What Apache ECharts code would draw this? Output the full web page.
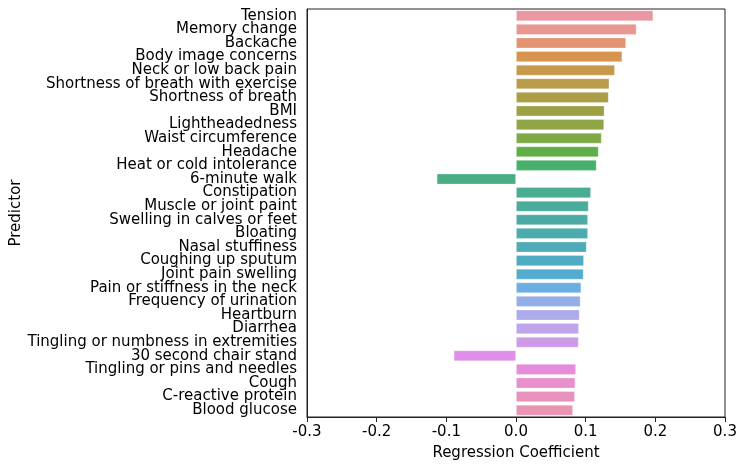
<!DOCTYPE html>
<html>
<head>
<meta charset="utf-8">
<script src="https://cdn.jsdelivr.net/npm/echarts@6/dist/echarts.min.js"></script>
<style>
html,body{margin:0;padding:0;background:#fff;}
#chart{width:746px;height:469px;}
</style>
</head>
<body>
<div id="chart"></div>
<script>
const categories = [
  "Tension","Memory change","Backache","Body image concerns","Neck or low back pain",
  "Shortness of breath with exercise","Shortness of breath","BMI","Lightheadedness",
  "Waist circumference","Headache","Heat or cold intolerance","6-minute walk",
  "Constipation","Muscle or joint paint","Swelling in calves or feet","Bloating",
  "Nasal stuffiness","Coughing up sputum","Joint pain swelling","Pain or stiffness in the neck",
  "Frequency of urination","Heartburn","Diarrhea","Tingling or numbness in extremities",
  "30 second chair stand","Tingling or pins and needles","Cough","C-reactive protein","Blood glucose"
];
const coefficients = [
  0.197, 0.173, 0.158, 0.1525, 0.142,
  0.134, 0.133, 0.127, 0.1265,
  0.123, 0.1186, 0.1157, -0.1138,
  0.1076, 0.1042, 0.1033, 0.1033,
  0.1014, 0.0975, 0.0970, 0.0937,
  0.0927, 0.0913, 0.0903, 0.0899,
  -0.0894, 0.0861, 0.0851, 0.0846, 0.0818
];
const xTicks = { min: -0.3, max: 0.3, interval: 0.1 };

// HUSL (seaborn) palette + desaturation
const M = [[3.2406,-1.5372,-0.4986],[-0.9689,1.8758,0.0415],[0.0557,-0.2040,1.0570]];
const refU = 0.19784, refV = 0.46834;
function maxChroma(L, H) {
  const hr = H*Math.PI/180, sinH = Math.sin(hr), cosH = Math.cos(hr);
  const sub1 = Math.pow(L+16,3)/1560896.0;
  const sub2 = sub1 > 0.008856 ? sub1 : L/903.3;
  let result = Infinity;
  for (const row of M) {
    const [m1,m2,m3] = row;
    const top = (0.99915*m1 + 1.05122*m2 + 1.14460*m3)*sub2;
    const rb = 0.86330*m3 - 0.17266*m2;
    const lb = 0.12949*m3 - 0.38848*m1;
    const bottom = (rb*sinH + lb*cosH)*sub2;
    for (const t of [0,1]) {
      const C = L*(top - 1.05122*t)/(bottom + 0.17266*sinH*t);
      if (C > 0 && C < result) result = C;
    }
  }
  return result;
}
function fInv(t){ return Math.pow(t,3) > 0.008856 ? Math.pow(t,3) : (116*t-16)/903.3; }
function fromLinear(c){ return c <= 0.0031308 ? 12.92*c : 1.055*Math.pow(c,1/2.4)-0.055; }
function huslToRgb(H,S,L){
  const C = maxChroma(L,H)/100*S;
  const hr = H*Math.PI/180;
  const U = Math.cos(hr)*C, V = Math.sin(hr)*C;
  const varY = fInv((L+16)/116);
  const varU = U/(13*L)+refU, varV = V/(13*L)+refV;
  const Y = varY;
  const X = -(9*Y*varU)/((varU-4)*varV - varU*varV);
  const Z = (9*Y - 15*varV*Y - varV*X)/(3*varV);
  return M.map(r => Math.min(1, Math.max(0, fromLinear(r[0]*X + r[1]*Y + r[2]*Z))));
}
function rgbToHls(r,g,b){
  const mx = Math.max(r,g,b), mn = Math.min(r,g,b);
  const l = (mx+mn)/2;
  if (mx === mn) return [0,l,0];
  const rc = mx-mn;
  const s = l <= 0.5 ? rc/(mx+mn) : rc/(2-mx-mn);
  const r1=(mx-r)/rc, g1=(mx-g)/rc, b1=(mx-b)/rc;
  let h;
  if (r===mx) h = b1-g1; else if (g===mx) h = 2+r1-b1; else h = 4+g1-r1;
  h = ((h/6)%1+1)%1;
  return [h,l,s];
}
function vv(m1,m2,h){ h=((h%1)+1)%1; if(h<1/6) return m1+(m2-m1)*h*6; if(h<0.5) return m2; if(h<2/3) return m1+(m2-m1)*(2/3-h)*6; return m1; }
function hlsToRgb(h,l,s){
  if (s===0) return [l,l,l];
  const m2 = l<=0.5 ? l*(1+s) : l+s-l*s, m1 = 2*l-m2;
  return [vv(m1,m2,h+1/3), vv(m1,m2,h), vv(m1,m2,h-1/3)];
}
function palette(n, lightness, sat){
  const out=[];
  for(let i=0;i<n;i++){
    const h = ((i/n + 0.01)%1)*359;
    let rgb = huslToRgb(h, 0.9*99, lightness*99);
    const [hh,ll,ss] = rgbToHls(...rgb);
    rgb = hlsToRgb(hh,ll,ss*sat);
    out.push('rgb(' + rgb.map(c=>Math.round(c*255)).join(',') + ')');
  }
  return out;
}
const colors = palette(categories.length, 0.7, 0.75);

const chart = echarts.init(document.getElementById('chart'), null, {renderer:'canvas'});
const font = 'DejaVu Sans';
chart.setOption({
  animation:false,
  backgroundColor:'#fff',
  grid:{left:307, right:21, top:9, bottom:52, show:true, borderColor:'#222', borderWidth:1,
        backgroundColor:'transparent', outerBoundsMode:'none', containLabel:false},
  xAxis:{
    type:'value', min:xTicks.min, max:xTicks.max, interval:xTicks.interval,
    name:'Regression Coefficient', nameLocation:'middle', nameGap:29, nameMoveOverlap:false,
    nameTextStyle:{fontFamily:font, fontSize:15, color:'#000'},
    axisLine:{show:true, onZero:false, lineStyle:{color:'#222', width:1}},
    axisTick:{show:true, length:5, lineStyle:{color:'#222', width:1}},
    axisLabel:{fontFamily:font, fontSize:15, color:'#000', margin:8, formatter:v=>v.toFixed(1)},
    splitLine:{show:false}
  },
  yAxis:{
    type:'category', data:categories, inverse:true,
    name:'Predictor', nameLocation:'middle', nameGap:283, nameRotate:90, nameMoveOverlap:false,
    nameTextStyle:{fontFamily:font, fontSize:15, color:'#000'},
    axisLine:{show:true, onZero:false, lineStyle:{color:'#222', width:1}},
    axisTick:{show:false},
    axisLabel:{fontFamily:font, fontSize:15, color:'#000', margin:10, interval:0, lineHeight:15},
    splitLine:{show:false}
  },
  series:[{
    type:'bar',
    barCategoryGap:'20%',
    data: coefficients.map((v,i)=>({value:v, itemStyle:{color:colors[i]}})),
    itemStyle:{borderColor:'rgba(255,255,255,0.35)', borderWidth:0.8}
  }]
});
</script>
</body>
</html>
